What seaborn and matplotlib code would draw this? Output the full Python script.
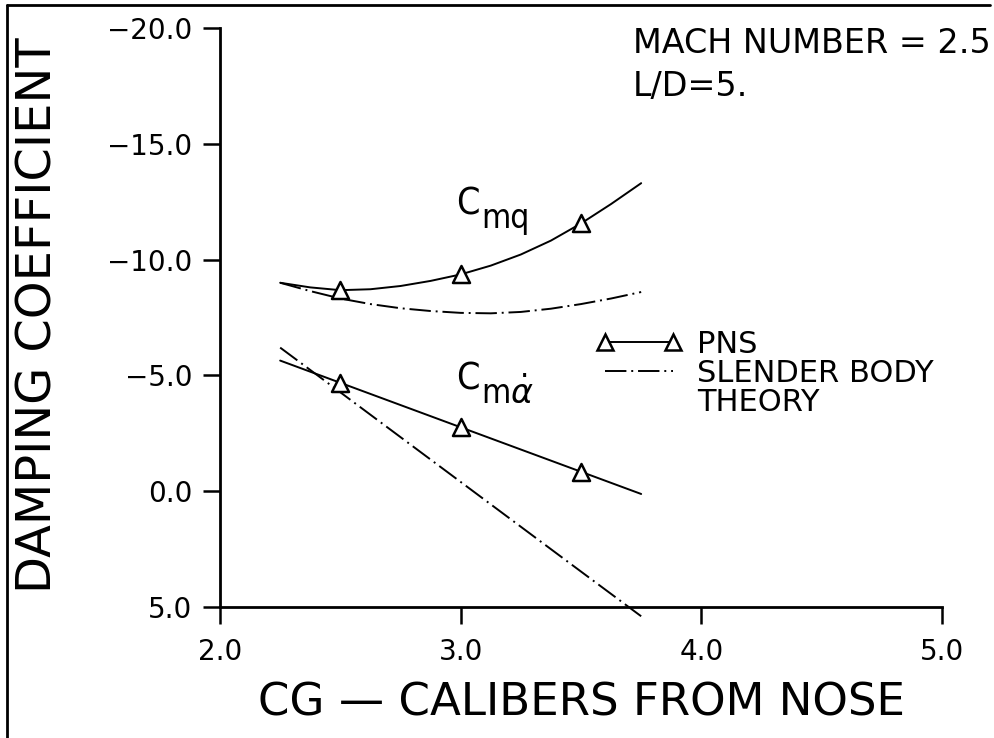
import numpy as np
import pandas as pd
import matplotlib
matplotlib.use("Agg")
import matplotlib.pyplot as plt
import seaborn as sns
from matplotlib.lines import Line2D

# ---------------- data ----------------
curve_x = [2.25, 2.375, 2.5, 2.625, 2.75, 2.875, 3.0, 3.125, 3.25, 3.375, 3.5, 3.625, 3.75]
cmq_pns = [-9.00, -8.80, -8.68, -8.72, -8.86, -9.08, -9.36, -9.74, -10.22, -10.82, -11.56, -12.40, -13.30]
cmq_sbt = [-9.00, -8.64, -8.32, -8.08, -7.90, -7.78, -7.70, -7.68, -7.74, -7.88, -8.08, -8.32, -8.60]

cmad_x = [2.25, 2.5, 3.0, 3.5, 3.75]
cmad_pns = [-5.64, -4.68, -2.76, -0.84, 0.12]
cmad_sbt = [-6.20, -4.27, -0.40, 3.47, 5.40]

pns_x = [2.5, 3.0, 3.5]
cmq_pns_pts = [-8.68, -9.36, -11.56]
cmad_pns_pts = [-4.68, -2.76, -0.84]

x_ticks = [2.0, 3.0, 4.0, 5.0]
x_tick_labels = ["2.0", "3.0", "4.0", "5.0"]
y_ticks = [-20.0, -15.0, -10.0, -5.0, 0.0, 5.0]
y_tick_labels = ["\u221220.0", "\u221215.0", "\u221210.0", "\u22125.0", "0.0", "5.0"]

# ---------------- style ----------------
sns.set_theme(style="ticks")
plt.rcParams["font.family"] = ["DejaVu Sans"]
plt.rcParams["mathtext.fontset"] = "dejavusans"
for k in ["text.color", "axes.labelcolor", "xtick.color", "ytick.color",
          "axes.edgecolor"]:
    plt.rcParams[k] = "black"

fig = plt.figure(figsize=(9.95, 7.38), dpi=100)
ax = fig.add_axes([220 / 995, 1 - 607 / 738, 722 / 995, 579 / 738])

LW = 1.4
DASHDOT = (0, (11, 2.5, 1, 2.5))

df_q = pd.DataFrame({"x": curve_x, "pns": cmq_pns, "sbt": cmq_sbt})
df_a = pd.DataFrame({"x": cmad_x, "pns": cmad_pns, "sbt": cmad_sbt})

sns.lineplot(data=df_q, x="x", y="pns", ax=ax, color="black", lw=LW,
             sort=False, estimator=None)
sns.lineplot(data=df_q, x="x", y="sbt", ax=ax, color="black", lw=LW,
             linestyle=DASHDOT, sort=False, estimator=None)
sns.lineplot(data=df_a, x="x", y="pns", ax=ax, color="black", lw=LW,
             sort=False, estimator=None)
sns.lineplot(data=df_a, x="x", y="sbt", ax=ax, color="black", lw=LW,
             linestyle=DASHDOT, sort=False, estimator=None, clip_on=False)

pts = pd.DataFrame({"x": pns_x + pns_x, "y": cmq_pns_pts + cmad_pns_pts})
sns.scatterplot(data=pts, x="x", y="y", ax=ax, marker="^", s=150,
                facecolor="white", edgecolor="black", linewidth=1.8, zorder=5)

ax.set_xlim(2.0, 5.0)
ax.set_ylim(5.0, -20.0)
ax.set_xticks(x_ticks)
ax.set_xticklabels(x_tick_labels)
ax.set_yticks(y_ticks)
ax.set_yticklabels(y_tick_labels)
ax.tick_params(axis="both", direction="out", length=12, width=1.8,
               labelsize=20, color="black", labelcolor="black")
ax.tick_params(axis="y", pad=8)
ax.tick_params(axis="x", pad=10)
for s in ["top", "right"]:
    ax.spines[s].set_visible(False)
for s in ["left", "bottom"]:
    ax.spines[s].set_linewidth(2.0)
    ax.spines[s].set_color("black")

ax.set_xlabel("CG \u2014 CALIBERS FROM NOSE", fontsize=32.5, color="black")
ax.set_ylabel("DAMPING COEFFICIENT", fontsize=34.5, color="black")
ax.xaxis.label.set_va("center")
ax.yaxis.label.set_va("center")
ax.xaxis.set_label_coords(0.501, -0.166)
ax.yaxis.set_label_coords(-0.252, 0.504)

# curve labels (C with lowered subscripts of nearly the same size)
ax.text(2.98, -11.95, "C", fontsize=27, fontstretch="condensed",
        va="baseline", ha="left")
ax.annotate("mq", xy=(2.98, -11.95), xytext=(18, -10), textcoords="offset points",
            fontsize=24, fontstretch="condensed", va="baseline", ha="left")
ax.text(2.98, -4.37, "C", fontsize=27, fontstretch="condensed",
        va="baseline", ha="left")
ax.annotate(r"m$\dot{\alpha}$", xy=(2.98, -4.37), xytext=(18, -10),
            textcoords="offset points", fontsize=24, fontstretch="condensed",
            va="baseline", ha="left")

# legend
h_pns = Line2D([], [], color="black", lw=LW, marker="^", ms=12,
               mfc="white", mec="black", mew=1.8)
h_sbt = Line2D([], [], color="black", lw=LW, linestyle=DASHDOT)
h_blank = Line2D([], [], color="none", lw=0)
leg = ax.legend([h_pns, h_sbt, h_blank], ["PNS", "SLENDER BODY", "THEORY"],
                loc="upper left", bbox_to_anchor=(0.5205, 0.479),
                frameon=False, fontsize=22, numpoints=2, handlelength=2.82,
                handletextpad=0.48, labelspacing=0.0, borderpad=0,
                borderaxespad=0)

# top-right annotation
fig.text(633 / 995, 1 - 53 / 738, "MACH NUMBER = 2.5", fontsize=24,
         va="baseline", ha="left")
fig.text(633 / 995, 1 - 96 / 738, "L/D=5.", fontsize=24,
         va="baseline", ha="left")

# frame lines at figure edge (top and left)
fig.add_artist(Line2D([7 / 995, 7 / 995], [0, 1 - 5 / 738],
                      transform=fig.transFigure, color="black", lw=2))
fig.add_artist(Line2D([7 / 995, 990 / 995], [1 - 5 / 738, 1 - 5 / 738],
                      transform=fig.transFigure, color="black", lw=2))

fig.savefig("out.png", dpi=100)
